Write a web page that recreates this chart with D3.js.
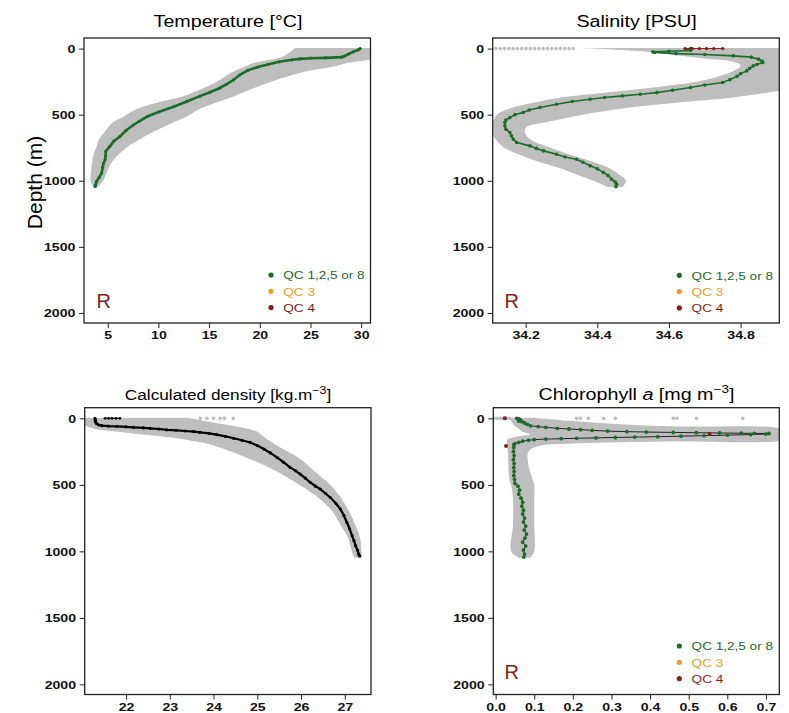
<!DOCTYPE html>
<html><head><meta charset="utf-8">
<script src="https://cdn.jsdelivr.net/npm/d3@7"></script>
<style>
html,body{margin:0;padding:0;background:#fff;}
svg{display:block;font-family:"Liberation Sans",Arial,Helvetica,sans-serif;}
</style></head><body>
<svg id="chart" width="789" height="713"></svg>
<script>
// ---------------- DATA ----------------
const depthTicks = [0, 500, 1000, 1500, 2000];
const tempTicks = [5, 10, 15, 20, 25, 30];
const salTicks = [34.2, 34.4, 34.6, 34.8];
const densTicks = [22, 23, 24, 25, 26, 27];
const chlTicks = [0.0, 0.1, 0.2, 0.3, 0.4, 0.5, 0.6, 0.7];
const legendLabels = ["QC 1,2,5 or 8", "QC 3", "QC 4"];

// Temperature profile
const tempDepth = [0,10,25,40,55,65,70,73,78,85,100,120,140,165,200,237,270,300,330,360,400,440,480,514,550,580,620,665,700,740,778,810,840,866,900,942,975,1005,1030,1043];
const tempValue = [29.9,29.7,29.2,28.8,28.4,28.1,26.5,25.0,24.0,23.2,21.9,20.8,19.8,18.8,18.0,17.4,16.7,16.0,15.1,14.1,12.8,11.5,10.0,8.9,8.1,7.5,6.8,6.2,5.6,5.2,4.8,4.8,4.75,4.6,4.5,4.4,4.15,3.9,3.8,3.75];
const tempEnvDepth = [-5,60,111,136,174,262,325,363,401,463,514,564,640,690,740,800,866,930,992,1040,1055];
const tempEnvMin = [23.5,22.3,19.3,18.6,17.4,15.5,13.6,12.4,10.3,7.7,6.6,5.4,4.6,4.1,3.9,3.6,3.45,3.35,3.3,3.5,3.7];
const tempEnvMax = [31.5,31.5,28.5,27.3,24.5,20.7,18.6,17.4,16.0,13.9,12.8,11.3,9.2,8.1,7.0,6.1,5.35,4.95,4.6,4.1,3.9];

// Salinity profile
const salDepth = [0,8,15,20,25,30,38,45,55,65,80,95,106,120,131,150,169,190,210,235,257,275,295,315,333,345,358,370,383,400,421,446,465,484,500,522,540,559,585,610,635,660,685,710,736,755,774,799,820,837,860,887,910,937,960,988,1010,1026,1045];
const salValue = [34.66,34.65,34.66,34.60,34.555,34.56,34.62,34.70,34.78,34.83,34.85,34.86,34.862,34.845,34.835,34.825,34.817,34.80,34.79,34.77,34.75,34.70,34.66,34.61,34.566,34.52,34.47,34.42,34.38,34.33,34.286,34.24,34.21,34.193,34.17,34.156,34.145,34.142,34.142,34.145,34.156,34.16,34.165,34.175,34.212,34.23,34.25,34.286,34.31,34.342,34.36,34.38,34.40,34.417,34.43,34.44,34.45,34.454,34.452];
const salQc4Depth = [0,0,0,0,0,0];
const salQc4Value = [34.645,34.665,34.685,34.705,34.725,34.75];
const salEnvDepth = [-5,25,50,75,100,130,170,210,250,290,330,370,410,450,500,550,600,650,700,750,800,850,900,950,1000,1050];
const salEnvMin = [34.35,34.55,34.62,34.70,34.78,34.80,34.78,34.74,34.68,34.57,34.43,34.30,34.22,34.16,34.12,34.11,34.11,34.11,34.12,34.14,34.18,34.23,34.29,34.34,34.39,34.43];
const salEnvMax = [34.95,34.95,34.95,34.95,34.95,34.95,34.95,34.95,34.95,34.95,34.88,34.78,34.62,34.48,34.36,34.27,34.20,34.20,34.22,34.27,34.32,34.38,34.43,34.46,34.48,34.47];
const salScatterDepth = [0,0,0,0,0,0,0,0,0,0,0,0,0,0,0,0,0,0,0,0];
const salScatterValue = [34.105,34.117,34.129,34.141,34.153,34.165,34.177,34.189,34.201,34.213,34.225,34.237,34.249,34.261,34.273,34.285,34.297,34.309,34.321,34.333];

// Density profile
const densDepth = [0,15,27,40,50,55,58,60,64,68,72,75,80,86,90,95,100,105,113,122,135,150,165,181,205,231,260,294,330,369,395,419,450,482,510,532,565,595,640,682,730,783,830,883,920,959,990,1021,1035];
const densValue = [21.29,21.3,21.3,21.33,21.38,21.45,21.6,21.79,22.0,22.17,22.4,22.55,22.75,22.93,23.15,23.35,23.55,23.69,23.9,24.07,24.27,24.46,24.65,24.84,25.0,25.15,25.3,25.45,25.6,25.75,25.88,25.98,26.1,26.21,26.33,26.44,26.56,26.67,26.8,26.9,26.98,27.05,27.11,27.17,27.21,27.25,27.29,27.32,27.34];
const densSurfDepth = [0,0,0,0,0];
const densSurfValue = [21.52,21.6,21.68,21.77,21.86];
const densEnvDepth = [-5,20,40,60,80,100,125,150,175,200,250,300,350,400,450,500,550,600,700,800,900,1000,1048];
const densEnvMin = [21.0,21.0,21.0,21.1,21.3,21.8,22.5,23.15,23.6,23.97,24.4,24.78,25.15,25.45,25.72,25.96,26.2,26.41,26.72,26.9,27.08,27.16,27.22];
const densEnvMax = [23.4,23.8,24.15,24.5,24.8,25.0,25.1,25.2,25.3,25.43,25.7,25.96,26.15,26.31,26.5,26.67,26.8,26.92,27.1,27.24,27.35,27.38,27.4];
const densScatterDepth = [0,0,0,0,0,0];
const densScatterValue = [23.7,23.85,24.0,24.15,24.25,24.45];

// Chlorophyll profile
const chlDepth = [0,5,10,15,20,25,35,45,56,62,68,75,80,85,90,96,100,103,106,108,110,112,113,114,118,122,126,130,134,138,141,144,147,150,153,156,160,165,172,180,190,200,220,250,280,310,340,370,400,430,460,490,510,540,570,600,630,660,690,720,750,780,810,840,870,900,930,960,990,1020,1043];
const chlValue = [0.055,0.06,0.062,0.065,0.06,0.068,0.075,0.082,0.09,0.11,0.13,0.16,0.19,0.22,0.25,0.29,0.34,0.39,0.46,0.52,0.58,0.636,0.67,0.708,0.70,0.66,0.60,0.54,0.48,0.42,0.36,0.31,0.26,0.21,0.17,0.13,0.10,0.085,0.07,0.06,0.05,0.047,0.047,0.046,0.048,0.046,0.048,0.047,0.048,0.047,0.049,0.05,0.058,0.062,0.06,0.066,0.07,0.068,0.072,0.07,0.075,0.072,0.078,0.074,0.08,0.076,0.07,0.078,0.072,0.075,0.073];
const chlQc4Depth = [0,207,118];
const chlQc4Value = [0.024,0.027,0.554];
const chlEnvDepth = [-5,20,40,60,80,100,120,140,160,175,190,210,250,350,450,500,600,800,1000,1048];
const chlEnvMin = [0.035,0.04,0.045,0.05,0.06,0.07,0.09,0.05,0.03,0.03,0.03,0.03,0.032,0.033,0.035,0.04,0.045,0.045,0.04,0.06];
const chlEnvMax = [0.10,0.2,0.3,0.45,0.74,0.74,0.74,0.74,0.74,0.45,0.2,0.11,0.085,0.085,0.095,0.1,0.1,0.1,0.1,0.09];
const chlScatterDepth = [0,0,0,0,0,0,0,0,0,0,0,0,0,0,0];
const chlScatterValue = [-0.004,0.004,0.012,0.02,0.028,0.036,0.21,0.22,0.24,0.28,0.31,0.46,0.47,0.52,0.64];

// ---------------- DRAWING ----------------
const GREEN = "#1d6b2b", ORANGE = "#f39a22", DARKRED = "#8b1a1a", GREY = "#bebebe";
const SX = 1.23;
const svg = d3.select("#chart");
const depthDomain = [-80, 2076];

function stext(g, x, y, str, o = {}) {
  const t = g.append("text")
    .attr("transform", `translate(${x},${y}) scale(${o.sx ?? SX},1)`)
    .attr("text-anchor", o.anchor || "start")
    .attr("font-size", o.size || 12)
    .attr("fill", o.fill || "#000");
  if (o.weight) t.attr("font-weight", o.weight);
  if (str != null) t.text(str);
  return t;
}
const zip = (ds, vs) => ds.map((d, i) => ({ d, v: vs[i] }));

function panel(cfg) {
  const [x0, y0, x1, y1] = cfg.box;
  const x = d3.scaleLinear().domain(cfg.xDomain).range([x0, x1]);
  const y = d3.scaleLinear().domain(depthDomain).range([y0, y1]);
  const g = svg.append("g");
  const clipId = "clip-" + cfg.key;
  svg.append("clipPath").attr("id", clipId).append("rect")
    .attr("x", x0).attr("y", y0).attr("width", x1 - x0).attr("height", y1 - y0);
  const plot = g.append("g").attr("clip-path", `url(#${clipId})`);

  // grey envelope of reference profiles
  const env = cfg.envDepth.map((d, i) => ({ d, lo: cfg.envMin[i], hi: cfg.envMax[i] }));
  plot.append("path").datum(env).attr("fill", GREY)
    .attr("d", d3.area().y(p => y(p.d)).x0(p => x(p.lo)).x1(p => x(p.hi)).curve(d3.curveCatmullRom.alpha(0.5)));
  if (cfg.scatter) {
    plot.append("g").selectAll("circle").data(cfg.scatter).join("circle")
      .attr("cx", p => x(p.v)).attr("cy", p => y(p.d)).attr("r", 1.8).attr("fill", GREY);
  }

  // profile
  const prof = cfg.profile;
  plot.append("path").datum(prof).attr("fill", "none")
    .attr("stroke", cfg.lineColor).attr("stroke-width", cfg.lineWidth)
    .attr("d", d3.line().x(p => x(p.v)).y(p => y(p.d)));
  plot.append("g").selectAll("circle").data(prof).join("circle")
    .attr("cx", p => x(p.v)).attr("cy", p => y(p.d)).attr("r", cfg.dotR).attr("fill", cfg.dotColor);
  if (cfg.extra) {
    cfg.extra.forEach(e => {
      if (e.line) plot.append("path").datum(e.data).attr("fill", "none").attr("stroke", e.color).attr("stroke-width", 1)
        .attr("d", d3.line().x(p => x(p.v)).y(p => y(p.d)));
      plot.append("g").selectAll("circle").data(e.data).join("circle")
        .attr("cx", p => x(p.v)).attr("cy", p => y(p.d)).attr("r", e.r || 1.8).attr("fill", e.color);
    });
  }

  // axes
  const ax = g.append("g").attr("transform", `translate(0,${y1})`)
    .call(d3.axisBottom(x).tickValues(cfg.ticks).tickSize(5).tickPadding(3).tickFormat(cfg.fmt));
  const ay = g.append("g").attr("transform", `translate(${x0},0)`)
    .call(d3.axisLeft(y).tickValues(depthTicks).tickSize(5).tickPadding(2).tickFormat(d3.format("d")));
  [ax, ay].forEach(a => {
    a.select(".domain").remove();
    a.attr("font-family", null).attr("font-size", null);
    a.selectAll("line").attr("stroke", "#222");
    a.selectAll("text").attr("font-size", 11.5).attr("font-weight", "bold").attr("fill", "#111");
  });
  ax.selectAll("text").attr("transform", `scale(${SX},1)`).attr("dy", "0.71em").attr("y", 8);
  ay.selectAll("text").attr("transform", `scale(${SX},1)`);

  // frame
  g.append("rect").attr("x", x0).attr("y", y0).attr("width", x1 - x0).attr("height", y1 - y0)
    .attr("fill", "none").attr("stroke", "#222").attr("stroke-width", 1.3);

  // legend
  if (cfg.legend) {
    const [lx, ly] = cfg.legend;
    const cols = [GREEN, ORANGE, DARKRED];
    legendLabels.forEach((lab, i) => {
      g.append("circle").attr("cx", lx).attr("cy", ly + i * 16.3).attr("r", 2.6).attr("fill", cols[i]);
      stext(g, lx + 12.3, ly + i * 16.3 + 4.2, lab, { size: 11.5, fill: cols[i], sx: 1.18 });
    });
  }
  if (cfg.rLabel) {
    stext(g, cfg.rLabel[0], cfg.rLabel[1], "R", { size: 20, fill: DARKRED, sx: 1 });
  }
  return { x, y, g };
}

// Temperature
panel({
  key: "temp", box: [84, 38, 370.5, 323], xDomain: [2.66, 30.92], ticks: tempTicks, fmt: d3.format("d"),
  envDepth: tempEnvDepth, envMin: tempEnvMin, envMax: tempEnvMax,
  profile: zip(tempDepth, tempValue), lineColor: GREEN, lineWidth: 2.6, dotR: 1.6, dotColor: GREEN,
  legend: [271, 275], rLabel: [96.5, 308]
});
// Salinity
panel({
  key: "sal", box: [492.7, 38, 779.3, 323], xDomain: [34.108, 34.908], ticks: salTicks, fmt: d3.format(".1f"),
  envDepth: salEnvDepth, envMin: salEnvMin, envMax: salEnvMax, scatter: zip(salScatterDepth, salScatterValue),
  profile: zip(salDepth, salValue), lineColor: GREEN, lineWidth: 1.6, dotR: 1.8, dotColor: GREEN,
  extra: [{ data: zip(salQc4Depth, salQc4Value), color: DARKRED, line: true, r: 1.7 }],
  legend: [679.3, 275.3], rLabel: [504.5, 308]
});
// Density
panel({
  key: "dens", box: [84.7, 407.7, 371, 694.5], xDomain: [21.055, 27.6], ticks: densTicks, fmt: d3.format("d"),
  envDepth: densEnvDepth, envMin: densEnvMin, envMax: densEnvMax, scatter: zip(densScatterDepth, densScatterValue),
  profile: zip(densDepth, densValue), lineColor: "#000", lineWidth: 2.2, dotR: 1.6, dotColor: "#000",
  extra: [{ data: zip(densSurfDepth, densSurfValue), color: "#000", line: true, r: 1.4 }]
});
// Chlorophyll
panel({
  key: "chl", box: [493.3, 407.7, 779.3, 694.5], xDomain: [-0.006, 0.7346], ticks: chlTicks, fmt: d3.format(".1f"),
  envDepth: chlEnvDepth, envMin: chlEnvMin, envMax: chlEnvMax, scatter: zip(chlScatterDepth, chlScatterValue),
  profile: zip(chlDepth, chlValue), lineColor: "#111", lineWidth: 0.9, dotR: 1.9, dotColor: GREEN,
  extra: [{ data: zip(chlQc4Depth, chlQc4Value), color: DARKRED, line: false, r: 2 }],
  legend: [679.3, 646], rLabel: [504.5, 678.5]
});

// Titles
stext(svg, 228, 27, "Temperature [°C]", { size: 16, anchor: "middle" });
stext(svg, 636.5, 27, "Salinity [PSU]", { size: 16, anchor: "middle" });
const td = stext(svg, 228, 399.5, null, { size: 14, anchor: "middle" });
td.append("tspan").text("Calculated density [kg.m");
td.append("tspan").attr("dy", -6).attr("font-size", 10).text("\u22123");
td.append("tspan").attr("dy", 6).text("]");
const tc = stext(svg, 636.5, 400, null, { size: 16, anchor: "middle" });
tc.append("tspan").text("Chlorophyll ");
tc.append("tspan").attr("font-style", "italic").text("a");
tc.append("tspan").text(" [mg m");
tc.append("tspan").attr("dy", -7).attr("font-size", 11).text("\u22123");
tc.append("tspan").attr("dy", 7).text("]");

// Y axis label
svg.append("text").attr("transform", "translate(41.5,182.5) rotate(-90)")
  .attr("text-anchor", "middle").attr("font-size", 21).attr("fill", "#000").text("Depth (m)");
</script>
</body></html>
